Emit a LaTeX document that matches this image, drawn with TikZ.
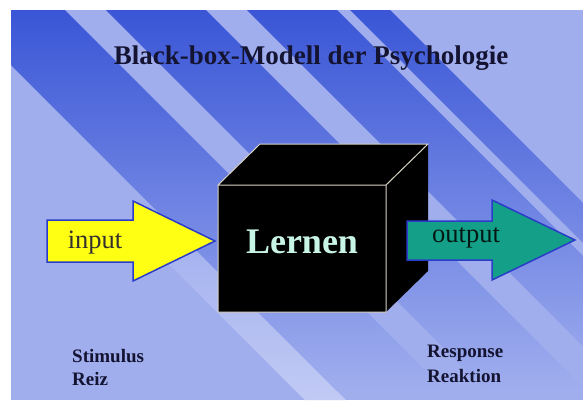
\documentclass[tikz,border=0pt]{standalone}
\usepackage{fontspec}
\setmainfont{Liberation Serif}
\usepackage{tikz}

\definecolor{slideblue}{HTML}{A0AEEE}
\definecolor{stripeblue}{HTML}{3A56D6}
\definecolor{arrowline}{HTML}{2A3CC8}
\definecolor{inyellow}{HTML}{FFFF14}
\definecolor{outteal}{HTML}{14A088}
\definecolor{lernencol}{HTML}{C8F4E6}
\definecolor{edgecol}{HTML}{D8D2C4}
\definecolor{textcol}{HTML}{141432}

\begin{document}
\begin{tikzpicture}[x=1pt,y=-1pt,
    titel/.style={font=\fontsize{27}{32}\selectfont\bfseries, text=textcol, inner sep=0pt, anchor=base},
    pfeiltext/.style={font=\fontsize{26.5}{30}\selectfont, inner sep=0pt, anchor=base},
    unten/.style={font=\fontsize{19}{23}\selectfont\bfseries, text=textcol, inner sep=0pt, anchor=base west},
    pfeil/.style={draw=arrowline, line width=1.5pt, line join=miter}]
    \useasboundingbox (0,0) rectangle (583,400);
    % 背景
    \fill[slideblue] (11,10) rectangle (583,400);
    \begin{scope}
        \clip (11,10) rectangle (583,400);
        \begin{scope}
            \clip (125,220) -- (166,220) -- (346,400) -- (305,400) -- cycle;
            \shade[top color=slideblue, bottom color=white!35!slideblue] (100,220) rectangle (400,400);
        \end{scope}
        \clip (-44,10) -- (65,10) -- (455,400) -- (346,400) -- cycle
              (106,10) -- (206,10) -- (596,400) -- (496,400) -- cycle
              (247,10) -- (337,10) -- (727,400) -- (637,400) -- cycle
              (350,10) -- (390,10) -- (780,400) -- (740,400) -- cycle;
        \shade[top color=stripeblue, middle color=stripeblue!60!slideblue, bottom color=slideblue] (11,10) rectangle (583,390);
    \end{scope}

\node[titel] (titel) at (311,64) {Black-box-Modell der Psychologie};

    % 黑箱
    \fill[black] (218,185) -- (260,144) -- (428,144) -- (428,271) -- (386,312) -- (218,312) -- cycle;
    \draw[edgecol, line width=1pt] (218,312) -- (218,185) -- (260,144) -- (428,144) -- (386,185) -- (218,185)
        (386,185) -- (386,312) -- (218,312);
\node[font=\fontsize{36}{40}\selectfont\bfseries, text=lernencol, inner sep=0pt, anchor=base] (lernen) at (302,253) {Lernen};

    % 箭头
    \filldraw[pfeil, fill=inyellow] (47,220) -- (133,220) -- (133,201) -- (215,241) -- (133,281) -- (133,262) -- (47,262) -- cycle;
    \filldraw[pfeil, fill=outteal] (407,221) -- (492,221) -- (492,200) -- (575,240) -- (492,280) -- (492,260) -- (407,260) -- cycle;
\node[pfeiltext, text=black!92!yellow] (input) at (95,248) {input};
\node[pfeiltext, text=black!85!outteal] (output) at (466,242) {output};

\node[unten] (stimulus) at (72,362) {Stimulus};
\node[unten] (reiz) at (72,385) {Reiz};
\node[unten] (response) at (427,357) {Response};
\node[unten] (reaktion) at (427,382) {Reaktion};
\end{tikzpicture}
\end{document}
